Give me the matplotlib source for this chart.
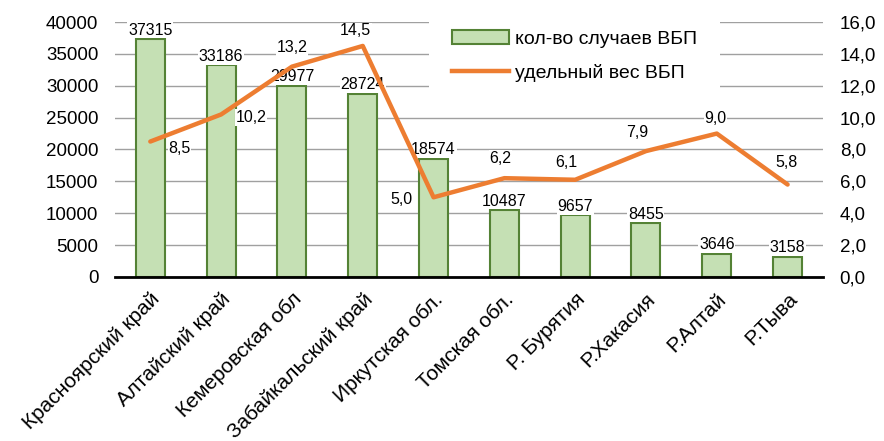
import matplotlib
matplotlib.use('Agg')
import matplotlib.pyplot as plt
from matplotlib.patches import Patch
from matplotlib.lines import Line2D
from matplotlib import font_manager as fm

# данные
regions = ['Красноярский край', 'Алтайский край', 'Кемеровская обл', 'Забайкальский край',
           'Иркутская обл.', 'Томская обл.', 'Р. Бурятия', 'Р.Хакасия', 'Р.Алтай', 'Р.Тыва']
cases = [37315, 33186, 29977, 28724, 18574, 10487, 9657, 8455, 3646, 3158]
share = [8.5, 10.2, 13.2, 14.5, 5.0, 6.2, 6.1, 7.9, 9.0, 5.8]
left_ticks = [0, 5000, 10000, 15000, 20000, 25000, 30000, 35000, 40000]
right_ticks = [0, 2, 4, 6, 8, 10, 12, 14, 16]

# сдвиги подписей линии (пиксели)
share_offsets = [(29, -7), (30, -3), (0, 19), (-7, 15), (-32, -2),
                 (-4, 20), (-9, 17), (-9, 19), (-1, 15), (-1, 22)]

names = {f.name for f in fm.fontManager.ttflist}
narrow = 'Liberation Sans Narrow' if 'Liberation Sans Narrow' in names else 'Liberation Sans'
plt.rcParams['font.family'] = ['Liberation Sans', 'DejaVu Sans']

bar_face = '#C5E0B4'
bar_edge = '#548235'
line_col = '#ED7D31'
grid_col = '#A0A0A0'

fig = plt.figure(figsize=(8.84, 4.41), dpi=100)
ax = fig.add_axes([0.130, 0.372, 0.801, 0.578])
ax2 = ax.twinx()

x = list(range(len(regions)))
ax.bar(x, cases, width=0.41, color=bar_face, edgecolor=bar_edge, linewidth=1.5, zorder=2)
ax.set_ylim(0, 40000)
ax.set_xlim(-0.5, len(regions) - 0.5)
ax.set_yticks(left_ticks)
ax.set_yticklabels([str(t) for t in left_ticks], fontsize=13.5)
ax.yaxis.grid(True, color=grid_col, linewidth=1.0, zorder=0)
ax.set_axisbelow(True)
ax.tick_params(axis='y', length=0, pad=12)
ax.set_xticks(x)
ax.set_xticklabels(regions, rotation=45, ha='right', rotation_mode='anchor', fontsize=15)
ax.tick_params(axis='x', length=0, pad=9)
for s in ['top', 'left', 'right']:
    ax.spines[s].set_visible(False)
ax.spines['bottom'].set_linewidth(2)
ax.spines['bottom'].set_zorder(5)

for xi, v in zip(x, cases):
    ax.annotate(str(v), (xi, v), xytext=(0, 9), textcoords='offset pixels',
                ha='center', va='center', fontsize=11.5, family=narrow,
                bbox=dict(facecolor='white', edgecolor='none', pad=0.5), zorder=3)

ax2.plot(x, share, color=line_col, linewidth=3.2, solid_capstyle='round', zorder=4)
ax2.set_ylim(0, 16)
ax2.set_yticks(right_ticks)
ax2.set_yticklabels([f'{t:.1f}'.replace('.', ',') for t in right_ticks], fontsize=13.5)
ax2.tick_params(axis='y', length=0, pad=12)
for s in ['top', 'left', 'right', 'bottom']:
    ax2.spines[s].set_visible(False)

for xi, v, (dx, dy) in zip(x, share, share_offsets):
    ax2.annotate(f'{v:.1f}'.replace('.', ','), (xi, v), xytext=(dx, dy),
                 textcoords='offset pixels', ha='center', va='center', fontsize=11.5,
                 family=narrow, bbox=dict(facecolor='white', edgecolor='none', pad=0.5))

handles = [Patch(facecolor=bar_face, edgecolor=bar_edge, linewidth=1.5),
           Line2D([0], [0], color=line_col, linewidth=3.2)]
leg = ax2.legend(handles, ['кол-во случаев ВБП', 'удельный вес ВБП'],
                 loc='upper left', bbox_to_anchor=(429 / 884, 1 - 7 / 441),
                 bbox_transform=fig.transFigure, fontsize=14, frameon=True,
                 facecolor='white', edgecolor='none', framealpha=1, fancybox=False,
                 handlelength=2.9, handletextpad=0.3, labelspacing=0.8,
                 borderpad=1.2, borderaxespad=0)

fig.savefig('out.png', dpi=100)
